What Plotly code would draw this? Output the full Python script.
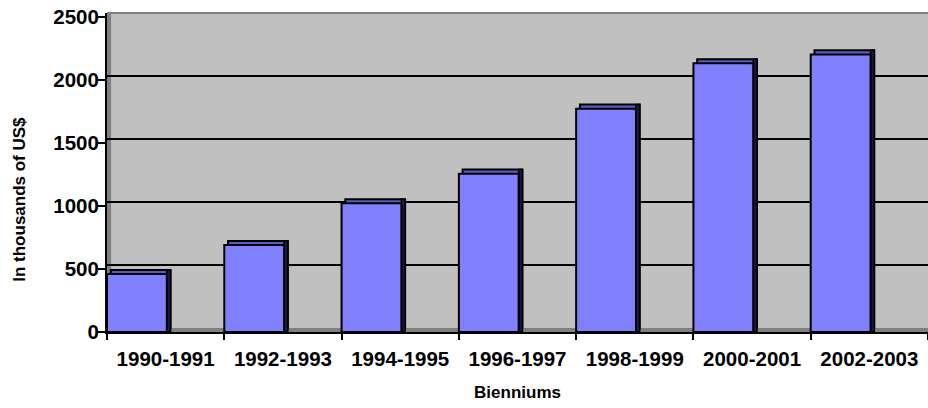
import plotly.graph_objects as go

categories = ["1990-1991", "1992-1993", "1994-1995", "1996-1997", "1998-1999", "2000-2001", "2002-2003"]
values = [460, 690, 1020, 1255, 1770, 2130, 2200]
y_ticks = [0, 500, 1000, 1500, 2000, 2500]

FONT = "Liberation Sans, Arial, sans-serif"
DEPTH_Y = 32      # 3D depth in data units (vertical)
DEPTH_X = 0.032   # 3D depth in category units (horizontal)
BAR_W = 0.51

fig = go.Figure()

# back/top face
fig.add_trace(go.Bar(
    x=categories, y=values, base=[DEPTH_Y] * len(values),
    offset=-0.5 + DEPTH_X, width=BAR_W,
    marker=dict(color="#5c5cc0", line=dict(color="black", width=2)),
    hoverinfo="skip", showlegend=False,
))
# right side face
fig.add_trace(go.Bar(
    x=categories, y=[v + DEPTH_Y for v in values], base=[0] * len(values),
    offset=-0.5 + BAR_W, width=DEPTH_X,
    marker=dict(color="#1a1a40", line=dict(color="black", width=1.5)),
    hoverinfo="skip", showlegend=False,
))
# front face
fig.add_trace(go.Bar(
    x=categories, y=values, base=[0] * len(values),
    offset=-0.5, width=BAR_W,
    marker=dict(color="#8080ff", line=dict(color="black", width=2)),
    showlegend=False,
))
# invisible trace to activate yaxis2 (back-wall gridlines)
fig.add_trace(go.Scatter(x=[categories[0]], y=[None], yaxis="y2",
                         showlegend=False, hoverinfo="skip"))

fig.update_layout(
    width=928, height=408,
    margin=dict(l=107, r=0, t=13, b=76),
    paper_bgcolor="white",
    plot_bgcolor="#c0c0c0",
    barmode="overlay",
    font=dict(family=FONT, size=20, color="black"),
    xaxis=dict(
        type="category", range=[-0.5, 6.5], automargin=False,
        tickson="boundaries", ticks="outside", ticklen=6, tickwidth=2, tickcolor="black",
        showline=True, linecolor="black", linewidth=2,
        showgrid=False, ticklabelstandoff=7,
        tickfont=dict(family=FONT, size=20.5, color="black", weight="bold"),
        title=dict(text="<b>Bienniums</b>", font=dict(family=FONT, size=17), standoff=18),
    ),
    yaxis=dict(
        range=[0, 2528], tickvals=y_ticks, automargin=False,
        ticks="outside", ticklen=7, tickwidth=2, tickcolor="black",
        showline=True, linecolor="black", linewidth=2,
        showgrid=False, zeroline=False, ticklabelstandoff=-5,
        tickfont=dict(family=FONT, size=20.5, color="black", weight="bold"),
    ),
    yaxis2=dict(
        overlaying="y", range=[-DEPTH_Y, 2528 - DEPTH_Y], automargin=False,
        tickvals=y_ticks[1:-1], showticklabels=False, ticks="",
        showgrid=True, gridcolor="black", gridwidth=2, zeroline=False,
        showline=False,
    ),
    shapes=[
        # floor
        dict(type="rect", xref="paper", yref="y", x0=0, x1=1, y0=0, y1=DEPTH_Y,
             fillcolor="#808080", line=dict(width=0), layer="below"),
        # top edge of back wall
        dict(type="line", xref="paper", yref="paper", x0=0, x1=1, y0=1, y1=1,
             line=dict(color="#808080", width=2), layer="below"),
        # left side wall
        dict(type="rect", xref="paper", yref="paper", x0=0, x1=0.005, y0=0, y1=1,
             fillcolor="#808080", line=dict(width=0), layer="below"),
    ],
    annotations=[dict(
        text="<b>In thousands of US$</b>", textangle=-90,
        xref="paper", yref="paper", x=-0.107, y=0.415,
        xanchor="center", yanchor="middle", showarrow=False,
        font=dict(family=FONT, size=17, color="black"),
    )],
)

fig.write_html("out.html", config={"displayModeBar": False},
               post_script="document.body.style.margin='0';")
